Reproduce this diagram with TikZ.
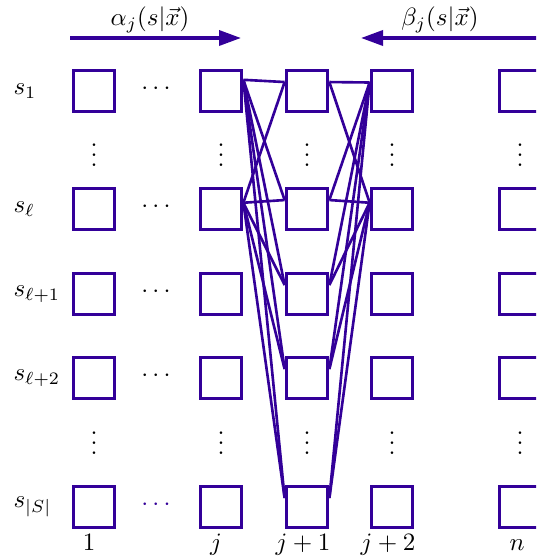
\documentclass[tikz,border=0pt]{standalone}
\usepackage{amsmath,amssymb}
\usepackage{tikz}
\usetikzlibrary{arrows.meta,calc}
\definecolor{trellis}{RGB}{51,0,153}

\begin{document}
\begin{tikzpicture}[x=0.4pt, y=0.4pt,
  cell/.style={draw=trellis, line width=1.3pt, minimum size=16.6pt, inner sep=0pt},
  link/.style={trellis, line width=1.05pt},
  arrow/.style={-{Triangle[length=8.8pt, width=6pt]}, trellis, line width=1.4pt},
  rowtag/.style={anchor=west, inner sep=0pt},
  coltag/.style={anchor=base, inner sep=0pt},
  dots/.style={inner sep=0pt}
]
\useasboundingbox (0,0) rectangle (536,-559);
\clip (0,0) rectangle (536,-559);

% states, one column per position
\foreach \c/\x in {a/94, j/221, k/307, m/392, n/520}
  \foreach \r/\y in {1/91, l/209, p/294, q/378, S/507}
    \node[cell] (\c\r) at (\x,-\y) {};

\foreach \c/\x in {a/94, j/221, k/307, m/392, n/520} {
  \node[dots] (up\c) at (\x,-148) {$\vdots$};
  \node[dots] (lo\c) at (\x,-436) {$\vdots$};
}
\foreach \r/\y in {1/89, l/207, p/292, q/376}
  \node[dots] (dd\r) at (158,-\y) {$\cdots$};
\node[dots, text=trellis] (ddS) at (158,-505) {$\cdots$};

\node[rowtag] (t1) at (13,-91) {$s_1$};
\node[rowtag] (tl) at (13,-209) {$s_\ell$};
\node[rowtag] (tp) at (13,-294) {$s_{\ell+1}$};
\node[rowtag] (tq) at (13,-378) {$s_{\ell+2}$};
\node[rowtag] (tS) at (13,-507) {$s_{|S|}$};

\node[coltag] (ca) at (89,-550) {$1$};
\node[coltag] (cj) at (216,-550) {$j$};
\node[coltag] (ck) at (303,-550) {$j+1$};
\node[coltag] (cm) at (388,-550) {$j+2$};
\node[coltag] (cn) at (517,-550) {$n$};

% forward and backward passes
\coordinate (fwdL) at (70,-38);
\coordinate (fwdR) at (241,-38);
\coordinate (bwdR) at (545,-38);
\coordinate (bwdL) at (361,-38);
\draw[arrow] (fwdL) -- (fwdR);
\draw[arrow] (bwdR) -- (bwdL);
\node (alpha) at (150,-20) {$\alpha_j(s|\vec{x})$};
\node (beta) at (440,-20) {$\beta_j(s|\vec{x})$};

\foreach \s/\f in {1/0.25, l/0.36}
  \foreach \t in {1,l,p,q,S}
    \draw[link] ($(j\s.north east)!\f!(j\s.south east)$) -- ($(k\t.north west)!0.3!(k\t.south west)$);
\foreach \s/\f in {1/0.31, l/0.36}
  \foreach \t in {1,l,p,q,S}
    \draw[link] ($(m\s.north west)!\f!(m\s.south west)$) -- ($(k\t.north east)!0.3!(k\t.south east)$);

\end{tikzpicture}
\end{document}
